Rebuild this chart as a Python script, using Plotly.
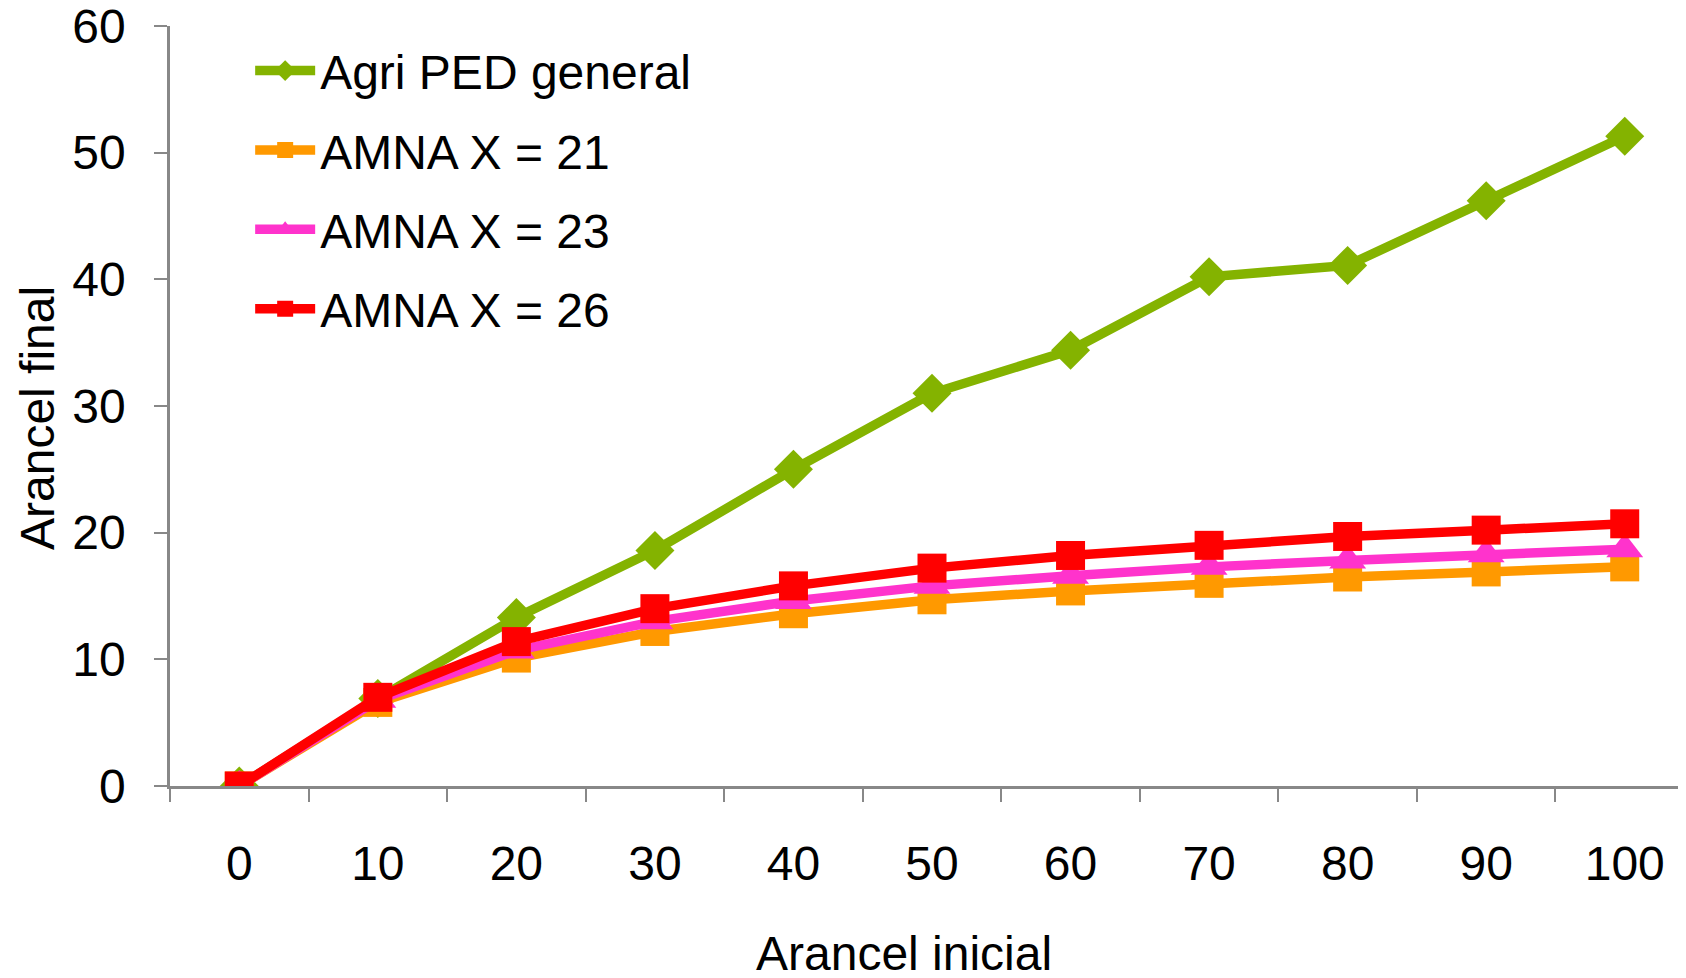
import plotly.graph_objects as go

categories = ["0", "10", "20", "30", "40", "50", "60", "70", "80", "90", "100"]
agri_ped = [0, 6.9, 13.3, 18.6, 25.0, 31.0, 34.4, 40.2, 41.1, 46.2, 51.3]
amna_21 = [0, 6.6, 10.1, 12.2, 13.6, 14.7, 15.4, 16.0, 16.5, 16.9, 17.3]
amna_23 = [0, 6.8, 10.7, 13.0, 14.6, 15.8, 16.6, 17.3, 17.8, 18.3, 18.7]
amna_26 = [0, 7.0, 11.4, 14.0, 15.8, 17.2, 18.2, 19.0, 19.7, 20.2, 20.7]
y_ticks = [0, 10, 20, 30, 40, 50, 60]

series = [
    ("Agri PED general", agri_ped, "#84B300", "diamond", 30),
    ("AMNA X = 21", amna_21, "#FF9900", "square", 29),
    ("AMNA X = 23", amna_23, "#FF33CC", "triangle-up", 32),
    ("AMNA X = 26", amna_26, "#FF0000", "square", 29),
]

FONT = "Liberation Sans, Arial, sans-serif"
AXIS_COLOR = "#888888"

fig = go.Figure()
for i, (name, vals, color, symbol, size) in enumerate(series):
    fig.add_trace(go.Scatter(
        x=categories, y=vals, name=name, mode="lines+markers",
        line=dict(color=color, width=9.5),
        marker=dict(symbol=symbol, size=size, color=color, line=dict(width=0)),
        legendgroup=f"g{i}",
    ))

fig.update_layout(
    width=1686, height=978,
    margin=dict(l=162, r=0, t=18, b=200),
    paper_bgcolor="white", plot_bgcolor="white",
    font=dict(family=FONT, size=48, color="black"),
    showlegend=True,
    legend=dict(
        x=0.0526, y=0.991, xanchor="left", yanchor="top",
        bgcolor="rgba(0,0,0,0)", borderwidth=0,
        font=dict(family=FONT, size=48, color="black"),
        traceorder="grouped", tracegroupgap=14, itemwidth=60,
    ),
    xaxis=dict(
        type="category", range=[-0.5, 10.5], automargin=False,
        showline=True, linecolor=AXIS_COLOR, linewidth=2.5,
        ticks="outside", tickson="boundaries", ticklen=13,
        tickcolor=AXIS_COLOR, tickwidth=2,
        showgrid=False, zeroline=False,
        tickfont=dict(family=FONT, size=48, color="black"),
        ticklabelstandoff=34, ticklabeloverflow="allow",
    ),
    yaxis=dict(
        range=[0, 60], tickvals=y_ticks, automargin=False,
        showline=True, linecolor=AXIS_COLOR, linewidth=2.5,
        ticks="outside", ticklen=13, tickcolor=AXIS_COLOR, tickwidth=2,
        showgrid=False, zeroline=False,
        tickfont=dict(family=FONT, size=48, color="black"),
        ticklabelstandoff=19, ticklabeloverflow="allow",
    ),
    annotations=[
        dict(text="Arancel inicial", xref="paper", yref="paper",
             x=0.4818, y=-0.2202, xanchor="center", yanchor="middle",
             showarrow=False, font=dict(family=FONT, size=48, color="black")),
        dict(text="Arancel final", xref="paper", yref="paper",
             x=-0.0874, y=0.484, xanchor="center", yanchor="middle",
             textangle=-90, showarrow=False,
             font=dict(family=FONT, size=48, color="black")),
    ],
)

fig.write_html("out.html")
